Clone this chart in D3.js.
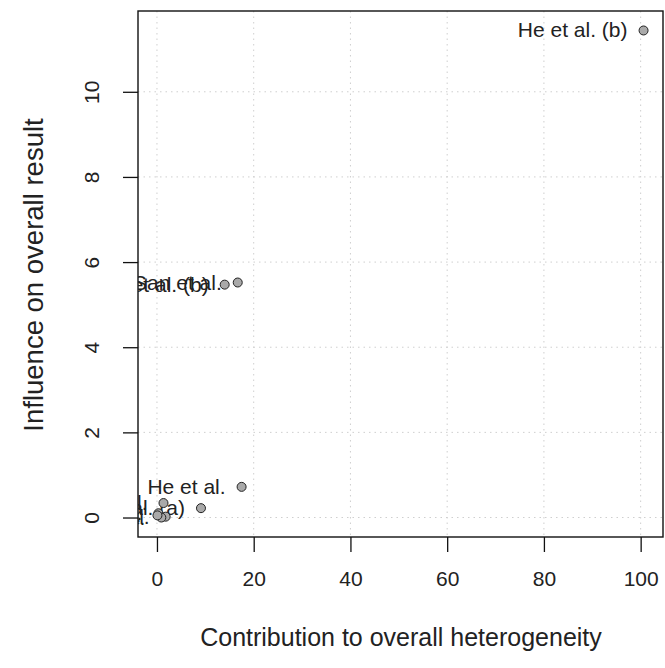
<!DOCTYPE html>
<html>
<head>
<meta charset="utf-8">
<script src="https://cdn.jsdelivr.net/npm/d3@7"></script>
<style>
  html, body { margin: 0; padding: 0; background: #fff; }
  svg { display: block; font-family: "Liberation Sans", Arial, sans-serif; }
</style>
</head>
<body>
<svg id="chart" width="665" height="668"></svg>
<script>
// Baujat plot: each study's contribution to heterogeneity vs its influence on the pooled result
const studies = [
  "He et al. (b)", "San et al.", "Yan et al. (b)", "He et al.", "Li et al. (a)",
  "Wang et al.", "Zhang et al.", "Chen et al.", "Liu et al.", "Xu et al."
];
const heterogeneity = [100.6, 16.7, 14.0, 17.5, 9.1, 1.35, 0.3, 1.8, 0.9, 0.1];
const influence     = [11.44, 5.52, 5.47, 0.72, 0.22, 0.34, 0.10, 0.02, 0.00, 0.05];

const xTicks = [0, 20, 40, 60, 80, 100];
const yTicks = [0, 2, 4, 6, 8, 10];

const data = studies.map((s, i) => ({ study: s, x: heterogeneity[i], y: influence[i] }));

const svg = d3.select("#chart");
const box = { left: 138, right: 663, top: 11, bottom: 537 };

// R-style axis limits: data range widened by 4% on each side
function padded(ext) {
  const d = (ext[1] - ext[0]) * 0.04;
  return [ext[0] - d, ext[1] + d];
}
const x = d3.scaleLinear().domain(padded(d3.extent(heterogeneity))).range([box.left, box.right]);
const y = d3.scaleLinear().domain(padded(d3.extent(influence))).range([box.bottom, box.top]);

svg.append("defs").append("clipPath").attr("id", "plotClip")
  .append("rect")
  .attr("x", box.left).attr("y", box.top)
  .attr("width", box.right - box.left).attr("height", box.bottom - box.top);

// dotted grid at the tick positions
const grid = svg.append("g").attr("stroke", "#cfcfcf").attr("stroke-width", 1)
  .attr("stroke-dasharray", "1.5,4");
grid.selectAll("line.gx").data(xTicks).join("line")
  .attr("x1", d => x(d)).attr("x2", d => x(d))
  .attr("y1", box.top).attr("y2", box.bottom);
grid.selectAll("line.gy").data(yTicks).join("line")
  .attr("x1", box.left).attr("x2", box.right)
  .attr("y1", d => y(d)).attr("y2", d => y(d));

// axes with outward ticks
const tickLen = 15;
const fs = 21;
const xAxis = svg.append("g").attr("transform", `translate(0,${box.bottom})`)
  .call(d3.axisBottom(x).tickValues(xTicks).tickSize(tickLen).tickPadding(0).tickSizeOuter(0));
xAxis.select(".domain").remove();
xAxis.selectAll(".tick line").attr("stroke", "#111").attr("stroke-width", 1.3);
xAxis.selectAll(".tick text")
  .attr("y", 49).attr("dy", 0)
  .attr("font-size", fs).attr("fill", "#222")
  .attr("font-family", "Liberation Sans, Arial, sans-serif");

const yAxis = svg.append("g").attr("transform", `translate(${box.left},0)`)
  .call(d3.axisLeft(y).tickValues(yTicks).tickSize(tickLen).tickPadding(0).tickSizeOuter(0));
yAxis.select(".domain").remove();
yAxis.selectAll(".tick line").attr("stroke", "#111").attr("stroke-width", 1.3);
yAxis.selectAll(".tick text")
  .attr("x", null).attr("dy", null)
  .attr("transform", "translate(-39,0) rotate(-90)")
  .attr("text-anchor", "middle")
  .attr("font-size", fs).attr("fill", "#222")
  .attr("font-family", "Liberation Sans, Arial, sans-serif");

// plot frame
svg.append("rect")
  .attr("x", box.left).attr("y", box.top)
  .attr("width", box.right - box.left).attr("height", box.bottom - box.top)
  .attr("fill", "none").attr("stroke", "#111").attr("stroke-width", 1.4);

// study labels to the left of each point, clipped to the plot region
const plot = svg.append("g").attr("clip-path", "url(#plotClip)");
plot.selectAll("text.lab").data(data).join("text")
  .attr("class", "lab")
  .attr("x", d => x(d.x) - 16)
  .attr("y", d => y(d.y) + 7)
  .attr("text-anchor", "end")
  .attr("font-size", fs)
  .attr("fill", "#222")
  .text(d => d.study);

plot.selectAll("circle").data(data).join("circle")
  .attr("cx", d => x(d.x)).attr("cy", d => y(d.y))
  .attr("r", 4.5)
  .attr("fill", "#a9a9a9").attr("stroke", "#222").attr("stroke-width", 1);

// axis titles
svg.append("text")
  .attr("x", 401).attr("y", 646)
  .attr("text-anchor", "middle").attr("font-size", 25).attr("fill", "#222")
  .text("Contribution to overall heterogeneity");
svg.append("text")
  .attr("transform", `translate(43,275) rotate(-90)`)
  .attr("text-anchor", "middle").attr("font-size", 27.5).attr("fill", "#222")
  .text("Influence on overall result");
</script>
</body>
</html>
